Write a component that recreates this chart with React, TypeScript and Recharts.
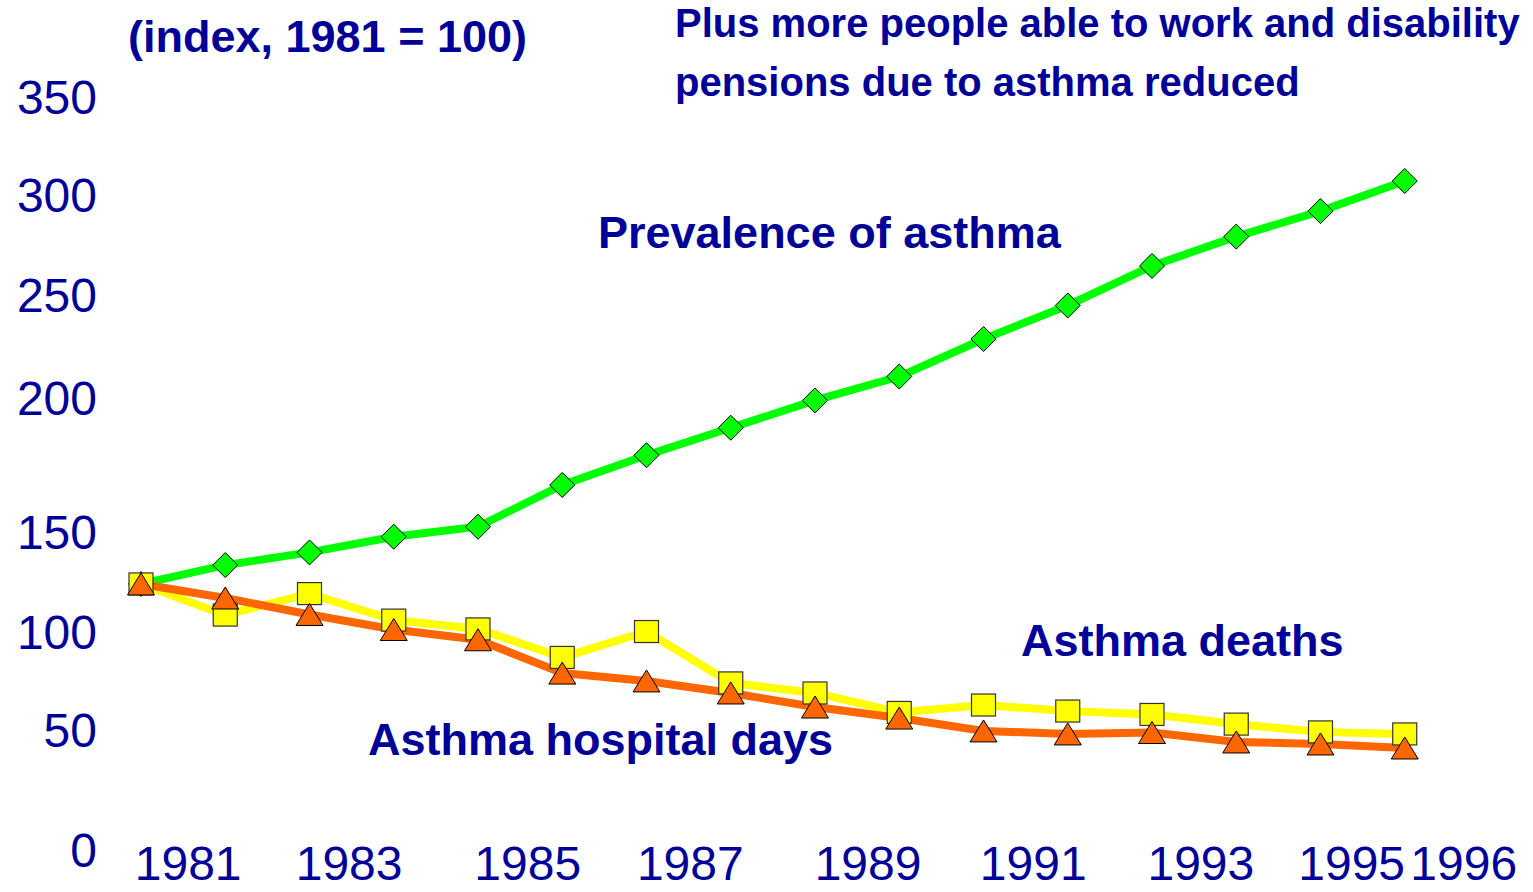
import { Line, LineChart, XAxis, YAxis } from "recharts";

const years = [1981, 1982, 1983, 1984, 1985, 1986, 1987, 1988, 1989, 1990, 1991, 1992, 1993, 1994, 1995, 1996];
const prevalence = [100, 109.4, 115.7, 123.5, 128.5, 149.3, 164.1, 177.8, 191.4, 203.3, 222.0, 238.7, 258.4, 273.0, 285.7, 300.7];
const deaths = [100, 84.5, 95.2, 82.0, 77.6, 63.4, 76.3, 50.7, 45.7, 36.0, 39.7, 36.7, 35.0, 30.2, 26.3, 25.3];
const hospitalDays = [100, 93.0, 84.8, 77.3, 72.2, 55.6, 51.7, 45.7, 38.7, 33.2, 26.8, 25.3, 26.0, 21.3, 20.3, 18.3];

// the labels in the source sit off the data grid, so their positions are kept as read
const yTickPositions = [342.5, 293.7, 243.9, 192.6, 125.9, 76.1, 27.3, -32.5];
const yTickLabels = ["350", "300", "250", "200", "150", "100", "50", "0"];
const xTickPositions = [1981.56, 1983.47, 1985.59, 1987.52, 1989.63, 1991.59, 1993.58, 1995.37, 1996.7];
const xTickLabels = ["1981", "1983", "1985", "1987", "1989", "1991", "1993", "1995", "1996"];

const data = years.map((year, i) => ({
	year,
	prevalence: prevalence[i],
	deaths: deaths[i],
	hospitalDays: hospitalDays[i],
}));

const NAVY = "#000099";
const FONT = "'Liberation Sans', Arial, sans-serif";

const Diamond = (props: any) => {
	const { cx, cy } = props;
	if (cx == null || cy == null) return null;
	const r = 12.5;
	return (
		<polygon
			points={`${cx},${cy - r} ${cx + r},${cy} ${cx},${cy + r} ${cx - r},${cy}`}
			fill="#00ff00"
			stroke="#000"
			strokeWidth={1}
		/>
	);
};

const Square = (props: any) => {
	const { cx, cy } = props;
	if (cx == null || cy == null) return null;
	return <rect x={cx - 12} y={cy - 11} width={24} height={22} fill="#ffff00" stroke="#333" strokeWidth={1.2} />;
};

const Triangle = (props: any) => {
	const { cx, cy } = props;
	if (cx == null || cy == null) return null;
	return (
		<polygon
			points={`${cx},${cy - 11} ${cx + 13.5},${cy + 11} ${cx - 13.5},${cy + 11}`}
			fill="#ff6600"
			stroke="#000"
			strokeWidth={1}
		/>
	);
};

const App = () => {
	return (
		<div style={{ position: "absolute", left: 0, top: 0, width: 1533, height: 892, background: "#fff" }}>
			<LineChart width={1533} height={892} data={data} margin={{ top: 82, right: 44, bottom: 0, left: 0 }}>
				<XAxis
					dataKey="year"
					type="number"
					domain={[1981, 1997]}
					ticks={xTickPositions}
					tickFormatter={(_v: number, i: number) => xTickLabels[i]}
					interval={0}
					axisLine={false}
					tickLine={false}
					tickSize={0}
					tickMargin={-9}
					height={37}
					tick={{ fill: NAVY, fontSize: 48, fontFamily: FONT }}
				/>
				<YAxis
					type="number"
					domain={[-35, 350]}
					ticks={yTickPositions}
					tickFormatter={(_v: number, i: number) => yTickLabels[i]}
					interval={0}
					axisLine={false}
					tickLine={false}
					tickSize={0}
					tickMargin={44}
					width={141}
					tick={{ fill: NAVY, fontSize: 48, fontFamily: FONT }}
				/>
				<Line
					dataKey="prevalence"
					stroke="#00ff00"
					strokeWidth={8}
					dot={<Diamond />}
					activeDot={false}
					isAnimationActive={false}
				/>
				<Line
					dataKey="deaths"
					stroke="#ffff00"
					strokeWidth={8}
					dot={<Square />}
					activeDot={false}
					isAnimationActive={false}
				/>
				<Line
					dataKey="hospitalDays"
					stroke="#ff6600"
					strokeWidth={8}
					dot={<Triangle />}
					activeDot={false}
					isAnimationActive={false}
				/>
			</LineChart>
			<svg
				width={1533}
				height={892}
				style={{ position: "absolute", left: 0, top: 0, pointerEvents: "none" }}
				fontFamily={FONT}
				fontWeight="bold"
				fill={NAVY}>
				<text x={128} y={52} fontSize={45}>
					(index, 1981 = 100)
				</text>
				<text x={675} y={37} fontSize={40}>
					Plus more people able to work and disability
				</text>
				<text x={675} y={96} fontSize={40}>
					pensions due to asthma reduced
				</text>
				<text x={598} y={248} fontSize={45}>
					Prevalence of asthma
				</text>
				<text x={1021} y={656} fontSize={45}>
					Asthma deaths
				</text>
				<text x={368} y={755} fontSize={45}>
					Asthma hospital days
				</text>
			</svg>
		</div>
	);
};

export default App;
